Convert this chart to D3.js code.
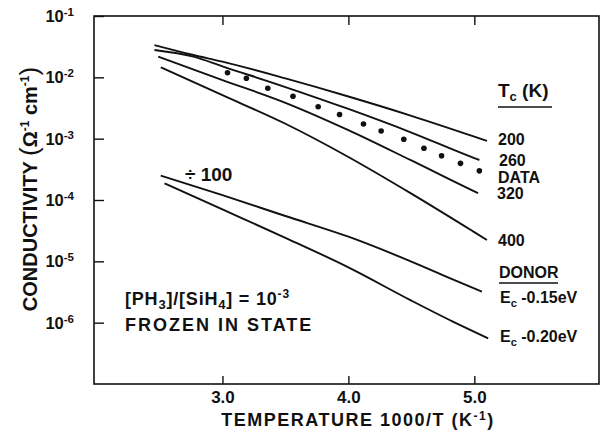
<!DOCTYPE html>
<html>
<head>
<meta charset="utf-8">
<script src="https://cdn.jsdelivr.net/npm/d3@7"></script>
<style>
  body { margin: 0; background: #fff; }
  text { font-family: "Liberation Sans", Arial, Helvetica, sans-serif; font-weight: bold; fill: #111; }
</style>
</head>
<body>
<div id="chart"></div>
<script>
// [1000/T, conductivity]
var tc200 = [[2.46, 3.36e-2], [2.77, 2.31e-2], [3.0, 1.80e-2], [3.5, 9.6e-3], [4.0, 4.87e-3], [4.5, 2.36e-3], [5.0, 1.08e-3], [5.10, 9.2e-4]];
var tc260 = [[2.46, 2.79e-2], [2.77, 2.17e-2], [3.0, 1.51e-2], [3.5, 6.95e-3], [4.0, 3.05e-3], [4.5, 1.26e-3], [5.0, 4.82e-4], [5.04, 4.49e-4]];
var tc320 = [[2.49, 2.17e-2], [3.0, 9.04e-3], [3.5, 3.85e-3], [4.0, 1.38e-3], [4.5, 4.41e-4], [5.0, 1.38e-4], [5.03, 1.29e-4]];
var tc400 = [[2.51, 1.46e-2], [3.0, 5.12e-3], [3.5, 1.75e-3], [4.0, 5.03e-4], [4.5, 1.27e-4], [5.0, 2.99e-5], [5.10, 2.23e-5]];
// donor curves (divided by 100)
var donor015 = [[2.51, 2.49e-4], [3.0, 1.20e-4], [3.5, 5.48e-5], [4.0, 2.52e-5], [4.5, 9.9e-6], [4.8, 5.38e-6], [5.06, 3.2e-6]];
var donor020 = [[2.54, 1.87e-4], [3.0, 7.03e-5], [3.5, 2.42e-5], [4.0, 7.98e-6], [4.5, 2.29e-6], [4.83, 1.04e-6], [5.11, 5.56e-7]];
// measured points
var dataX = [3.04, 3.19, 3.36, 3.56, 3.76, 3.93, 4.12, 4.26, 4.44, 4.60, 4.74, 4.89, 5.04];
var dataY = [1.19e-2, 9.64e-3, 6.62e-3, 4.91e-3, 3.32e-3, 2.48e-3, 1.73e-3, 1.33e-3, 9.77e-4, 6.99e-4, 5.27e-4, 3.96e-4, 2.99e-4];

var xTicks = [3.0, 4.0, 5.0];
var yExponents = [-1, -2, -3, -4, -5, -6];

var margin = {top: 16, right: 1, bottom: 56, left: 94};
var W = 600, H = 440;
var width = W - margin.left - margin.right;
var height = H - margin.top - margin.bottom;

var svg = d3.select("#chart").append("svg")
    .attr("width", W)
    .attr("height", H);

var g = svg.append("g")
    .attr("transform", "translate(" + margin.left + "," + margin.top + ")");

var x = d3.scaleLinear().domain([1.98, 5.99]).range([0, width]);
var y = d3.scaleLog().domain([1e-7, 1e-1]).range([height, 0]);

// frame
g.append("rect")
    .attr("width", width).attr("height", height)
    .attr("fill", "none").attr("stroke", "#111").attr("stroke-width", 1.6);

// bottom axis
var xAxis = g.append("g")
    .attr("transform", "translate(0," + height + ")")
    .call(d3.axisBottom(x).tickValues(xTicks).tickSize(-8).tickPadding(7)
        .tickFormat(d3.format(".1f")));
xAxis.select(".domain").remove();
xAxis.selectAll("line").attr("stroke", "#111").attr("stroke-width", 1.4);
xAxis.selectAll("text").attr("font-size", 17).attr("fill", "#111");

// top ticks
var xTop = g.append("g")
    .call(d3.axisTop(x).tickValues(xTicks).tickSize(-9).tickFormat(""));
xTop.select(".domain").remove();
xTop.selectAll("line").attr("stroke", "#111").attr("stroke-width", 1.4);

// left axis
var yAxis = g.append("g")
    .call(d3.axisLeft(y).tickValues(yExponents.map(function(e) { return Math.pow(10, e); }))
        .tickSize(-10).tickPadding(20).tickFormat(""));
yAxis.select(".domain").remove();
yAxis.selectAll("line").attr("stroke", "#111").attr("stroke-width", 1.4);
yAxis.selectAll(".tick text").each(function(d) {
    var t = d3.select(this).attr("font-size", 16.5).attr("fill", "#111").attr("dy", "0.34em");
    t.append("tspan").text("10");
    t.append("tspan").attr("font-size", 11.5).attr("dy", -6)
        .text("-" + Math.round(-Math.log10(d)));
});

// curves
var line = d3.line()
    .x(function(d) { return x(d[0]); })
    .y(function(d) { return y(d[1]); })
    .curve(d3.curveMonotoneX);

[tc200, tc260, tc320, tc400, donor015, donor020].forEach(function(c) {
    g.append("path")
        .datum(c)
        .attr("d", line)
        .attr("fill", "none")
        .attr("stroke", "#111")
        .attr("stroke-width", 1.9);
});

g.selectAll(".dot")
    .data(dataX)
    .enter().append("circle")
    .attr("class", "dot")
    .attr("cx", function(d) { return x(d); })
    .attr("cy", function(d, i) { return y(dataY[i]); })
    .attr("r", 2.8)
    .attr("fill", "#111");

// axis titles
var xt = svg.append("text")
    .attr("x", 358).attr("y", 426)
    .attr("text-anchor", "middle")
    .attr("font-size", 18)
    .attr("letter-spacing", "1.5px");
xt.append("tspan").text("TEMPERATURE 1000/T (K");
xt.append("tspan").attr("font-size", 12).attr("dy", -6).text("-1");
xt.append("tspan").attr("dy", 6).text(")");

var yt = svg.append("text")
    .attr("transform", "translate(37,189) rotate(-90)")
    .attr("text-anchor", "middle")
    .attr("font-size", 20);
yt.append("tspan").text("CONDUCTIVITY ");
yt.append("tspan").attr("font-size", 26).attr("font-weight", "normal").attr("dy", 1).text("(");
yt.append("tspan").attr("dy", -1).text("\u03A9");
yt.append("tspan").attr("font-size", 12).attr("dy", -8).text("-1");
yt.append("tspan").attr("dy", 8).text(" cm");
yt.append("tspan").attr("font-size", 12).attr("dy", -8).text("-1");
yt.append("tspan").attr("font-size", 26).attr("font-weight", "normal").attr("dy", 9).text(")");

// legend annotations
function label(px, py, size, parts) {
    var t = svg.append("text").attr("x", px).attr("y", py).attr("font-size", size);
    parts.forEach(function(p) {
        var s = t.append("tspan").text(p.t);
        if (p.size) s.attr("font-size", p.size);
        if (p.dy) s.attr("dy", p.dy);
    });
    return t;
}

label(498, 97, 19, [{t: "T"}, {t: "c", size: 13, dy: 4}, {t: " (K)", dy: -4}]);
svg.append("line").attr("x1", 498).attr("x2", 552).attr("y1", 107).attr("y2", 107)
    .attr("stroke", "#111").attr("stroke-width", 1.5);

label(498, 145, 16, [{t: "200"}]);
label(499, 166, 16, [{t: "260"}]);
label(498, 183, 16, [{t: "DATA"}]);
label(497, 199, 16, [{t: "320"}]);
label(498, 246, 16, [{t: "400"}]);

label(499, 278, 16, [{t: "DONOR"}]);
svg.append("line").attr("x1", 499).attr("x2", 558).attr("y1", 283).attr("y2", 283)
    .attr("stroke", "#111").attr("stroke-width", 1.5);
label(500, 303, 16, [{t: "E"}, {t: "c", size: 11, dy: 4}, {t: " -0.15eV", dy: -4}]);
label(500, 342, 16, [{t: "E"}, {t: "c", size: 11, dy: 4}, {t: " -0.20eV", dy: -4}]);

label(185, 181, 19, [{t: "\u00F7 100"}]);

label(125, 305, 18, [{t: "[PH"}, {t: "3", size: 13, dy: 4}, {t: "]/[SiH", dy: -4},
    {t: "4", size: 13, dy: 4}, {t: "] = 10", dy: -4}, {t: "-3", size: 12, dy: -7}])
    .attr("letter-spacing", "0.8px");
label(125, 331, 18, [{t: "FROZEN IN STATE"}]).attr("letter-spacing", "2px");
</script>
</body>
</html>
